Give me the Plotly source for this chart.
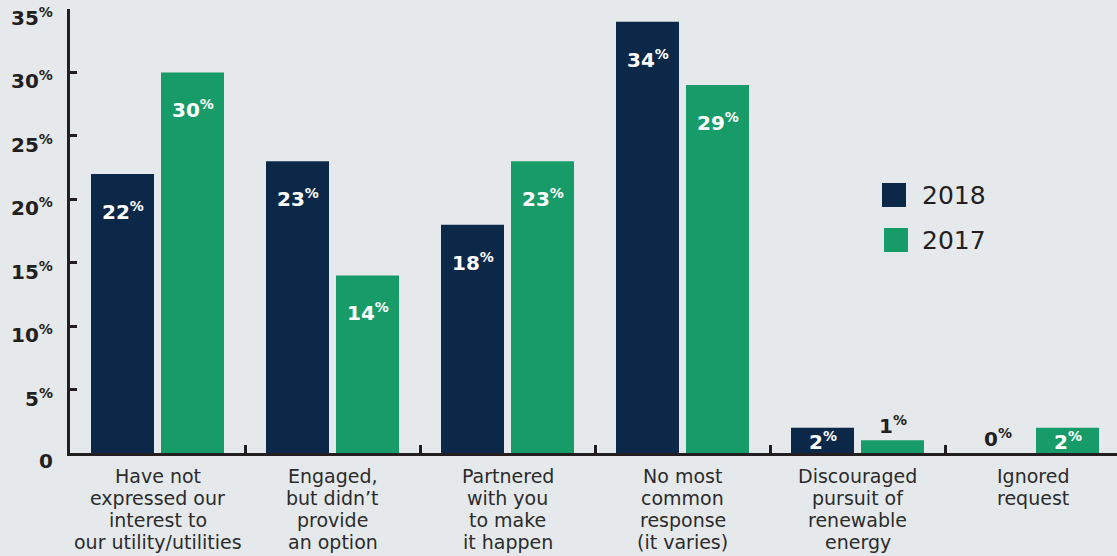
import plotly.graph_objects as go

categories = [
    "Have not<br>expressed our<br>interest to<br>our utility/utilities",
    "Engaged,<br>but didn’t<br>provide<br>an option",
    "Partnered<br>with you<br>to make<br>it happen",
    "No most<br>common<br>response<br>(it varies)",
    "Discouraged<br>pursuit of<br>renewable<br>energy",
    "Ignored<br>request",
]
values_2018 = [22, 23, 18, 34, 2, 0]
values_2017 = [30, 14, 23, 29, 1, 2]
y_ticks = [0, 5, 10, 15, 20, 25, 30, 35]
y_tick_labels = ["0"] + [f"{t}<sup>%</sup>" for t in y_ticks[1:]]

NAVY = "#0b2848"
GREEN = "#179b68"
BG = "#e6e9ec"
DARK = "#231f20"
FONT = "DejaVu Sans, sans-serif"

fig = go.Figure()
fig.add_trace(go.Bar(x=categories, y=values_2018, name="2018", marker_color=NAVY,
                     marker_line_width=0, showlegend=False))
fig.add_trace(go.Bar(x=categories, y=values_2017, name="2017", marker_color=GREEN,
                     marker_line_width=0, showlegend=False))

annotations = []
for series, xs in ((values_2018, -35), (values_2017, 35)):
    for cat, v in zip(categories, series):
        if v >= 5:
            ys, col = -37, "white"
        elif v >= 2:
            ys, col = -13, "white"
        else:
            ys, col = 15, DARK
        annotations.append(dict(x=cat, y=v, xref="x", yref="y", xshift=xs, yshift=ys,
                                text=f"<b>{v}<sup>%</sup></b>", showarrow=False,
                                font=dict(family=FONT, size=20, color=col)))

# y tick labels
for t, lab in zip(y_ticks, y_tick_labels):
    annotations.append(dict(x=0, y=t, xref="paper", yref="y", xanchor="right",
                            xshift=-15, yshift=-8, showarrow=False,
                            text=f"<b>{lab}</b>",
                            font=dict(family=FONT, size=20, color=DARK)))

# category labels, one annotation per line for the reference's tight line spacing
for cat in categories:
    for i, line in enumerate(cat.split("<br>")):
        annotations.append(dict(x=cat, y=0, xref="x", yref="paper", yanchor="middle",
                                yshift=-23 - 22 * i, showarrow=False, text=line,
                                font=dict(family=FONT, size=19, color="#2b2b2b")))

# legend
W, H = 1047, 444
def px_x(p):
    return (p - 70) / W
def px_y(p):
    return (453 - p) / H

shapes = []
for name, col, top, left in (("2018", NAVY, 183, 882), ("2017", GREEN, 228, 884)):
    shapes.append(dict(type="rect", xref="paper", yref="paper",
                       x0=px_x(left), x1=px_x(left + 24), y0=px_y(top + 24), y1=px_y(top),
                       fillcolor=col, line_width=0))
    annotations.append(dict(x=px_x(920), y=px_y(top + 12), xref="paper", yref="paper",
                            xanchor="left", yanchor="middle", showarrow=False, text=name,
                            font=dict(family=FONT, size=25, color=DARK)))

fig.update_layout(
    width=1117, height=556,
    margin=dict(l=70, r=0, t=9, b=103, autoexpand=False),
    paper_bgcolor=BG, plot_bgcolor=BG,
    barmode="group", bargap=0.2, bargroupgap=0.1,
    annotations=annotations, shapes=shapes,
    showlegend=False,
)
fig.update_xaxes(
    range=[-0.5, 5.5 - 3 / 175], automargin=False,
    showline=True, linecolor=DARK, linewidth=3,
    ticks="inside", tickson="boundaries", ticklen=8, tickwidth=3, tickcolor=DARK,
    showgrid=False, zeroline=False, showticklabels=False,
)
fig.update_yaxes(
    range=[0, 35], tickvals=y_ticks, showticklabels=False, automargin=False,
    showline=True, linecolor=DARK, linewidth=3,
    ticks="inside", ticklen=7, tickwidth=3, tickcolor=DARK,
    showgrid=False, zeroline=False,
)

# remove the page's default body margin so the figure fills the window exactly
fig.write_html("out.html", config={"displayModeBar": False},
               post_script="document.body.style.margin='0';document.body.style.background='%s';" % BG)
